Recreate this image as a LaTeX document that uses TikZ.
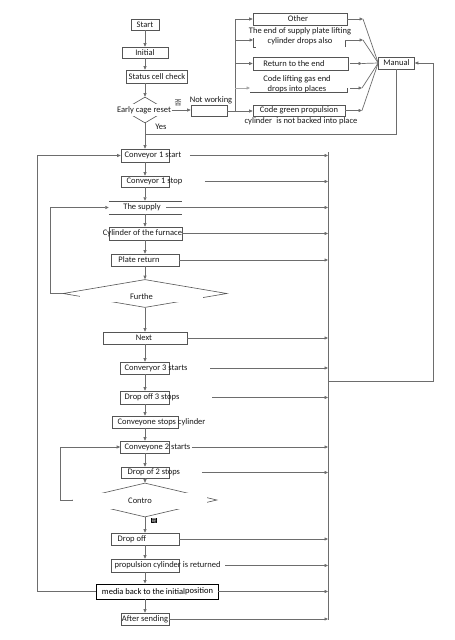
\documentclass[tikz,border=0pt]{standalone}
\usepackage{fontspec}
\setmainfont{Carlito}
\newfontfamily\cjk{Noto Sans CJK SC}
\usetikzlibrary{arrows.meta,shapes.geometric,calc}
\definecolor{linegray}{HTML}{6D6D6D}
\definecolor{lightline}{HTML}{A8A8A8}
\definecolor{boxgray}{HTML}{555555}
\definecolor{textc}{HTML}{1A1A1A}
\tikzset{
  box/.style={draw=boxgray, line width=0.6pt, inner sep=0pt, minimum height=12pt},
  txt/.style={font=\fontsize{8.5}{9.5}\selectfont, text=textc, inner sep=0.5pt},
  ln/.style={draw=linegray, line width=0.7pt},
  arr/.style={ln, -{Triangle[length=3.5pt,width=3pt]}},
  larr/.style={draw=lightline, line width=0.7pt, -{Triangle[length=3.5pt,width=3pt]}},
  wtxt/.style={txt, fill=white}
}
\begin{document}
\begin{tikzpicture}[x=1pt,y=-1pt]
\useasboundingbox[fill=white] (0,0) rectangle (455,640);
% column coordinates
\coordinate (col) at (328,0);
\coordinate (ctop) at (328,152);
\coordinate (cbot) at (328,620);
% ---------- top part ----------
\node[box, minimum width=28pt, minimum height=11pt] (start) at (145,24.5) {};
\node[txt] (tstart) at (145,24.5) {Start};
\node[box, minimum width=46pt, minimum height=11pt] (init) at (145,52.5) {};
\node[txt] (tinit) at (145,52.5) {Initial};
\node[box, minimum width=61pt, minimum height=13pt] (status) at (156.5,76.5) {};
\node[txt] (tstatus) at (157,76.5) {Status cell check};
\node[draw=boxgray, line width=0.6pt, diamond, inner sep=0pt, minimum width=44pt, minimum height=26pt] (early) at (145,110) {};
\node[wtxt, minimum height=12pt] (tearly) at (144,110) {Early cage reset};
\node[txt, font=\cjk\fontsize{7}{7}\selectfont] (fou) at (178,103) {否};
\node[txt] (yes) at (161,126.5) {Yes};
\node[box, minimum width=36pt, minimum height=11pt] (notw) at (209,111) {};
\node[txt] (tnotw) at (211,100) {Not working};
\coordinate (bx) at (235,111);
\coordinate (btop) at (235,19);
% right branch
\node[box, minimum width=94pt, minimum height=12pt] (other) at (300,19) {};
\node[txt] (tother) at (298,19) {Other};
\node[txt, align=center] (tend) at (300,36) {The end of supply plate lifting\\cylinder drops also};
\coordinate (eL) at (253,40);
\coordinate (eR) at (345,40);
\draw[draw=boxgray, line width=0.6pt] (253,38) -- (253,47) -- (256,47);
\draw[draw=boxgray, line width=0.6pt] (345,47) -- (eR);
\node[box, minimum width=95pt, minimum height=13pt] (ret) at (300.5,63.5) {};
\node[txt] (tret) at (294,63.5) {Return to the end};
\node[txt, align=center] (tcode) at (297,84) {Code lifting gas end\\drops into places};
\coordinate (cL) at (250,88);
\coordinate (cR) at (347,88);
\draw[draw=boxgray, line width=0.6pt] (250,92) -- (347,92) -- (cR);
\node[box, minimum width=92pt, minimum height=11pt] (green) at (299,110.5) {};
\node[txt] (tgreen) at (299,110) {Code green propulsion};
\node[wtxt, inner sep=0.3pt] (tgreen2) at (301,121.5) {cylinder\enspace is not backed into place};
\node[box, minimum width=36pt, minimum height=12pt] (manual) at (396.5,63) {};
\node[txt] (tmanual) at (396.5,63) {Manual};
% ---------- main column ----------
\node[box, minimum width=48pt, minimum height=13pt] (c1s) at (145,155.5) {};
\node[txt, anchor=west] (tc1s) at (124,155.5) {Conveyor 1 start};
\node[box, minimum width=48pt, minimum height=11pt] (c1p) at (145,181.5) {};
\node[txt, anchor=west] (tc1p) at (126,181.5) {Conveyor 1 stop};
\node[inner sep=0pt, minimum width=73pt, minimum height=13pt] (supply) at (145.5,207.5) {};
\draw[draw=boxgray, line width=0.6pt] (supply.north west) -- (supply.north east);
\draw[draw=boxgray, line width=0.6pt] (supply.south west) -- (supply.south east);
\node[txt] (tsupply) at (142,207.5) {The supply};
\node[box, minimum width=73pt, minimum height=13pt] (cyl) at (145.5,233.5) {};
\node[txt] (tcyl) at (142.5,233.5) {Cylinder of the furnace};
\node[box, minimum width=68pt, minimum height=12pt] (plate) at (145,260) {};
\node[txt] (tplate) at (139,260) {Plate return};
\node[draw=boxgray, line width=0.6pt, diamond, inner sep=0pt, minimum width=164pt, minimum height=28pt] (furthe) at (145,293.5) {};
\node[wtxt, minimum width=123pt, minimum height=11pt] (tfurthe) at (141.5,296.8) {Furthe};
\node[box, minimum width=84pt, minimum height=12pt] (next) at (145,338) {};
\node[txt] (tnext) at (144,338) {Next};
\node[box, minimum width=49pt, minimum height=12pt] (c3s) at (145,368) {};
\node[txt, anchor=west] (tc3s) at (124,368) {Converyor 3 starts};
\node[box, minimum width=49pt, minimum height=13pt] (d3) at (145,397.5) {};
\node[txt, anchor=west] (td3) at (124,397.5) {Drop off 3 stops};
\node[box, minimum width=66pt, minimum height=12pt] (csc) at (145,422) {};
\node[txt, anchor=west] (tcsc) at (117,422) {Conveyone stops cylinder};
\node[box, minimum width=49pt, minimum height=12pt] (c2s) at (145,447) {};
\node[txt, anchor=west] (tc2s) at (124,447) {Conveyone 2 starts};
\node[box, minimum width=48pt, minimum height=11pt] (d2) at (145,472.5) {};
\node[txt, anchor=west] (td2) at (127,472.5) {Drop of 2 stops};
\node[draw=boxgray, line width=0.6pt, diamond, inner sep=0pt, minimum width=144pt, minimum height=34pt] (contro) at (145,500) {};
\node[wtxt, minimum width=134pt, minimum height=16pt] (tcontro) at (140,500.5) {Contro};
\node[fill=black, text=white, inner sep=0.4pt, font=\cjk\fontsize{5}{5}\selectfont] (icon) at (154,520.5) {是};
\node[box, minimum width=68pt, minimum height=12pt] (dof) at (145,539) {};
\node[txt, anchor=west] (tdof) at (117,539) {Drop off};
\node[box, minimum width=68pt, minimum height=13pt] (prop) at (145,565.5) {};
\node[txt, anchor=west] (tprop) at (114,565.5) {propulsion cylinder is returned};
\node[draw=black, line width=0.9pt, inner sep=0pt, minimum width=122pt, minimum height=15pt] (media) at (157,591.5) {};
\node[txt, text=black] (tmedia) at (157.5,591.5) {media back to the initial\raisebox{0.8pt}{position}};
\node[box, minimum width=48pt, minimum height=12pt] (after) at (145,619) {};
\node[txt] (tafter) at (145,619) {After sending};
% ---------- main vertical arrows ----------
\draw[arr] (start.south) -- (init.north);
\draw[arr] (init.south) -- (init.south |- status.north);
\draw[arr] (init.south |- status.south) -- (early.north);
\coordinate (j1) at (145,134);
\draw[ln] (early.south) -- (j1);
\draw[arr] (j1) -- (c1s.north);
\draw[arr] (c1s.south) -- (c1p.north);
\draw[arr] (c1p.south) -- (c1p.south |- supply.north);
\draw[arr] (c1p.south |- supply.south) -- (c1p.south |- cyl.north);
\draw[arr] (c1p.south |- cyl.south) -- (plate.north);
\draw[arr] (plate.south) -- (furthe.north);
\draw[arr] (furthe.south) -- (next.north);
\draw[arr] (next.south) -- (c3s.north);
\draw[arr] (c3s.south) -- (d3.north);
\draw[arr] (d3.south) -- (csc.north);
\draw[arr] (csc.south) -- (c2s.north);
\draw[arr] (c2s.south) -- (d2.north);
\draw[arr] (d2.south) -- (contro.north);
\draw[arr] (contro.south) -- (dof.north);
\draw[arr] (dof.south) -- (prop.north);
\draw[arr] (prop.south) -- (prop.south |- media.north);
\draw[arr] (after.north |- media.south) -- (after.north);
% ---------- top branches ----------
\draw[arr] (tearly.east) -- (tearly.east -| notw.west);
\draw[ln] (notw.east) -- (bx);
\draw[ln] (bx) -- (btop);
\draw[arr] (btop) -- (other.west);
\draw[arr] (bx |- eL) -- (eL);
\draw[arr] (bx |- ret.west) -- (ret.west);
\draw[larr] (bx |- cL) -- (cL);
\draw[arr] (bx) -- (bx -| green.west);
\coordinate (m1) at (363,19);
\coordinate (m2) at (363,40);
\coordinate (m3) at (362,63.5);
\coordinate (m4) at (362,88);
\coordinate (m5) at (362,110.5);
\draw[arr] (other.east) -- (m1);
\draw[arr] (eR) -- (m2);
\draw[arr] ([xshift=2pt]ret.east) -- (m3);
\draw[arr] ([xshift=3pt]cR) -- (m4);
\draw[arr] (green.east) -- (m5);
\foreach \m in {m1,m2,m3,m4,m5} \draw[ln] (\m) -- (manual.west);
\coordinate (j2) at (396.5,134);
\draw[ln] (manual.south) -- (j2) -- (j1);
\coordinate (r0) at (328,381);
\coordinate (r1) at (433,381);
\draw[arr] (r0) -- (r1) |- (manual.east);
% ---------- right collector ----------
\draw[ln] (ctop) -- (cbot);
\draw[arr] ([xshift=8pt]tc1s.east) -- (tc1s.east -| col);
\draw[arr] ([xshift=22pt]tc1p.east) -- (tc1p.east -| col);
\draw[arr] ([xshift=5pt]tsupply.east |- supply.east) -- (supply.east -| col);
\draw[arr] (cyl.east) -- (cyl.east -| col);
\draw[arr] (plate.east) -- (plate.east -| col);
\draw[arr] (next.east) -- (next.east -| col);
\draw[arr] ([xshift=22pt]tc3s.east) -- (tc3s.east -| col);
\draw[arr] ([xshift=32pt]td3.east) -- (td3.east -| col);
\draw[arr] ([xshift=1pt]tc2s.east) -- (tc2s.east -| col);
\draw[arr] ([xshift=21pt]td2.east) -- (td2.east -| col);
\draw[arr] (dof.east) -- (dof.east -| col);
\draw[arr] ([xshift=4pt]tprop.east) -- (tprop.east -| col);
\draw[arr] (media.east) -- (media.east -| col);
\draw[arr] (after.east) -- (after.east -| col);
% ---------- loops ----------
\coordinate (L1) at (37,591.5);
\draw[arr] (media.west) -- (L1) |- (c1s.west);
\coordinate (L2) at (50,293.5);
\draw[arr] (furthe.west) -- (L2) |- (supply.west);
\coordinate (L3) at (60,500);
\draw[arr] (contro.west) -- (L3) |- (c2s.west);
\end{tikzpicture}
\end{document}
